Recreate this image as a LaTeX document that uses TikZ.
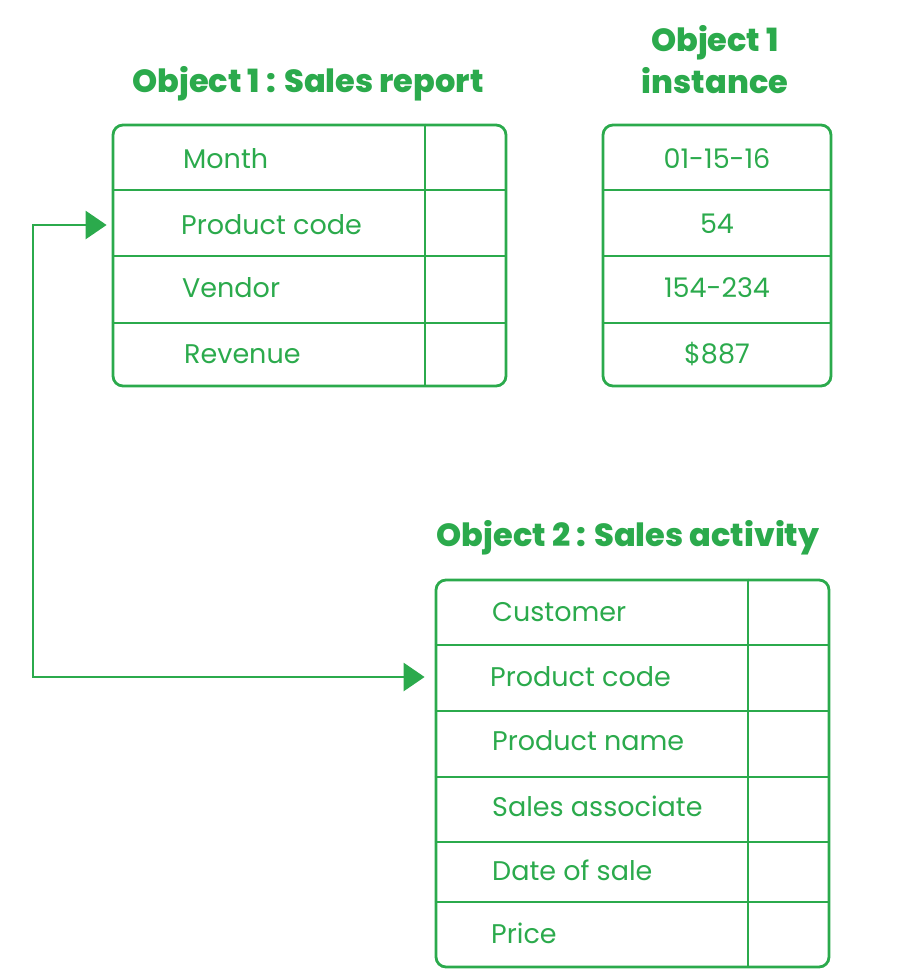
\documentclass[tikz,border=0pt]{standalone}
\usepackage{fontspec}
\setmainfont{Poppins}
\newfontfamily\titlefont{Poppins ExtraBold}
\usetikzlibrary{positioning, arrows.meta}
\definecolor{objgreen}{RGB}{43,170,76}

\begin{document}
\begin{tikzpicture}[
    x=1pt, y=-1pt,
    tbl/.style={
      draw=objgreen, line width=2.8pt, rounded corners=10pt,
      inner sep=0pt
    },
    rule/.style={draw=objgreen, line width=2.8pt},
    field/.style={
      text=objgreen, font=\fontsize{27}{30}\selectfont, inner sep=0pt
    },
    title/.style={
      text=objgreen, font=\titlefont\fontsize{32}{42}\selectfont,
      align=center, inner sep=0pt
    },
    link/.style={
      {Triangle[length=21pt, width=28pt]}-{Triangle[length=21pt, width=28pt]},
      draw=objgreen, line width=2.8pt
    },
  ]
    \useasboundingbox (0,0) rectangle (903,980);

    \node[title] (t1) at (308,84) {Object 1 : Sales report};
    \node[title] (t2) at (715,60) {Object 1\\instance};
    \node[title] (t3) at (628,538) {Object 2 : Sales activity};

    \node[tbl, minimum width=393pt, minimum height=261pt] (rep) at (309.5,255.5) {};
    \node[tbl, minimum width=228pt, minimum height=261pt] (inst) at (717,255.5) {};
    \node[tbl, minimum width=393pt, minimum height=387pt] (act) at (632.5,773.5) {};

    \draw[rule] (rep.west |- 0,190) -- (rep.east |- 0,190);
    \draw[rule] (rep.west |- 0,256) -- (rep.east |- 0,256);
    \draw[rule] (rep.west |- 0,323) -- (rep.east |- 0,323);
    \draw[rule] (rep.north -| 425,0) -- (rep.south -| 425,0);

    \draw[rule] (inst.west |- 0,190) -- (inst.east |- 0,190);
    \draw[rule] (inst.west |- 0,256) -- (inst.east |- 0,256);
    \draw[rule] (inst.west |- 0,323) -- (inst.east |- 0,323);

    \draw[rule] (act.west |- 0,645) -- (act.east |- 0,645);
    \draw[rule] (act.west |- 0,711) -- (act.east |- 0,711);
    \draw[rule] (act.west |- 0,777) -- (act.east |- 0,777);
    \draw[rule] (act.west |- 0,842) -- (act.east |- 0,842);
    \draw[rule] (act.west |- 0,902) -- (act.east |- 0,902);
    \draw[rule] (act.north -| 748,0) -- (act.south -| 748,0);

    \node[field, anchor=west] (month) at (183,159) {Month};
    \node[field, anchor=west] (pcode1) at (181,225) {Product code};
    \node[field, anchor=west] (vendor) at (182,288) {Vendor};
    \node[field, anchor=west] (revenue) at (184,354) {Revenue};

    \node[field] (vmonth) at (717,159) {01-15-16};
    \node[field] (vcode) at (717,224) {54};
    \node[field] (vvendor) at (717,288) {154-234};
    \node[field] (vrevenue) at (717,354) {\$887};

    \node[field, anchor=west] (customer) at (492,612) {Customer};
    \node[field, anchor=west] (pcode2) at (490,677) {Product code};
    \node[field, anchor=west] (pname) at (492,741) {Product name};
    \node[field, anchor=west] (assoc) at (492,806) {Sales associate};
    \node[field, anchor=west] (date) at (492,870) {Date of sale};
    \node[field, anchor=west] (price) at (491,933) {Price};

    \coordinate (lbot) at (33,677);
    \coordinate (ltop) at (33,225);
    \draw[link] ([xshift=-10pt]act.west |- pcode2.west) -- (lbot) -- (ltop)
      -- ([xshift=-5pt]rep.west |- pcode1.west);
  \end{tikzpicture}
\end{document}
